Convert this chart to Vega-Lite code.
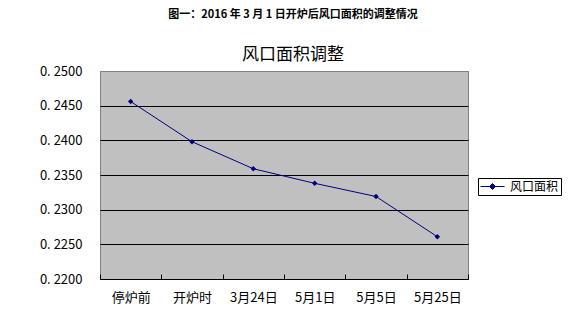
{
  "$schema": "https://vega.github.io/schema/vega-lite/v6.json",
  "autosize": "none",
  "width": 368,
  "height": 208,
  "padding": {"left": 100, "top": 71, "right": 118, "bottom": 44},
  "background": "white",
  "title": {
    "text": "图一：2016 年 3 月 1 日开炉后风口面积的调整情况",
    "subtitle": "风口面积调整",
    "anchor": "middle",
    "frame": "group",
    "dx": 9,
    "offset": 2,
    "font": "Noto Sans CJK SC",
    "fontSize": 11,
    "fontWeight": "bold",
    "color": "black",
    "subtitleFont": "Noto Sans CJK SC",
    "subtitleFontSize": 17,
    "subtitleColor": "black",
    "subtitlePadding": 27
  },
  "data": {
    "values": [
      {"date": "停炉前", "series": "风口面积", "area": 0.2456},
      {"date": "开炉时", "series": "风口面积", "area": 0.2398},
      {"date": "3月24日", "series": "风口面积", "area": 0.2359},
      {"date": "5月1日", "series": "风口面积", "area": 0.2338},
      {"date": "5月5日", "series": "风口面积", "area": 0.2319},
      {"date": "5月25日", "series": "风口面积", "area": 0.2261}
    ]
  },
  "encoding": {
    "x": {
      "field": "date",
      "type": "nominal",
      "sort": null,
      "scale": {"type": "band", "paddingInner": 0, "paddingOuter": 0},
      "axis": {
        "title": null,
        "labelAngle": 0,
        "labelFont": "Noto Sans CJK SC",
        "labelFontSize": 13,
        "labelColor": "black",
        "labelPadding": 17,
        "tickBand": "extent",
        "ticks": true,
        "tickSize": -5,
        "tickColor": "black",
        "domain": true,
        "domainColor": "black",
        "grid": false
      }
    },
    "y": {
      "field": "area",
      "type": "quantitative",
      "scale": {"domain": [0.22, 0.25], "nice": false, "zero": false},
      "axis": {
        "title": null,
        "values": [0.22, 0.225, 0.23, 0.235, 0.24, 0.245, 0.25],
        "labelExpr": "replace(format(datum.value, '.4f'), '.', '. ')",
        "labelFont": "Noto Sans CJK SC",
        "labelFontSize": 13,
        "labelColor": "black",
        "labelPadding": 18,
        "ticks": false,
        "domain": false,
        "grid": true,
        "gridColor": {"condition": {"test": "datum.value >= 0.2499 || datum.value <= 0.2201", "value": "#808080"}, "value": "black"},
        "gridWidth": 1,
        "gridOpacity": 1
      }
    },
    "color": {
      "field": "series",
      "type": "nominal",
      "scale": {"range": ["#000080"]},
      "legend": {
        "title": null,
        "orient": "none",
        "legendX": 378,
        "legendY": 107,
        "strokeColor": "black",
        "fillColor": "white",
        "padding": 2,
        "symbolType": "M-1,0L3,0M1,-0.5L1.5,0L1,0.5L0.5,0Z",
        "symbolSize": 144,
        "symbolStrokeWidth": 1,
        "symbolFillColor": "#000080",
        "symbolStrokeColor": "#000080",
        "symbolOpacity": 1,
        "labelFont": "Noto Sans CJK SC",
        "labelFontSize": 12,
        "labelColor": "black",
        "labelOffset": 17
      }
    }
  },
  "layer": [
    {"mark": {"type": "line", "strokeWidth": 1, "color": "#000080"}},
    {"mark": {"type": "point", "shape": "diamond", "filled": true, "size": 30, "opacity": 1, "color": "#000080"}}
  ],
  "config": {
    "view": {"fill": "#C0C0C0", "stroke": "#808080", "strokeWidth": 1}
  }
}
